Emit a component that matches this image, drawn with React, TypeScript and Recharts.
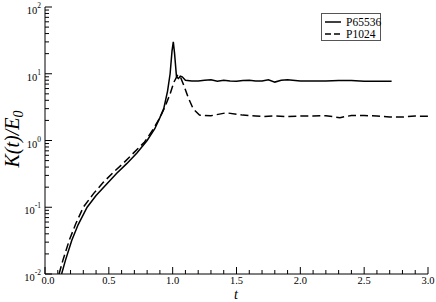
import React from 'react';
import { LineChart, Line, XAxis, YAxis } from 'recharts';

// P65536 (solid)
const tP65536 = [0.13, 0.16, 0.21, 0.26, 0.33, 0.40, 0.48, 0.56, 0.64, 0.72, 0.80, 0.86, 0.90, 0.93, 0.96, 0.98, 0.995, 1.005, 1.015, 1.03, 1.045, 1.06, 1.075, 1.10, 1.15, 1.20, 1.25, 1.30, 1.35, 1.40, 1.45, 1.50, 1.55, 1.60, 1.65, 1.70, 1.75, 1.80, 1.85, 1.90, 2.00, 2.10, 2.20, 2.30, 2.40, 2.50, 2.60, 2.715];
const kP65536 = [0.01, 0.016, 0.032, 0.055, 0.1, 0.15, 0.22, 0.32, 0.45, 0.65, 1.0, 1.5, 2.2, 3.0, 5.5, 10, 22, 30, 20, 9.0, 8.5, 9.2, 9.0, 8.0, 7.8, 7.8, 8.0, 8.1, 7.7, 8.0, 7.8, 7.7, 7.9, 8.0, 7.8, 7.8, 8.1, 7.5, 8.0, 8.1, 7.8, 7.8, 7.8, 7.9, 7.9, 7.7, 7.7, 7.7];

// P1024 (dashed)
const tP1024 = [0.11, 0.14, 0.19, 0.24, 0.30, 0.38, 0.46, 0.54, 0.62, 0.70, 0.78, 0.85, 0.90, 0.94, 0.98, 1.01, 1.04, 1.06, 1.09, 1.12, 1.16, 1.21, 1.30, 1.42, 1.55, 1.65, 1.71, 1.80, 1.90, 2.00, 2.10, 2.20, 2.31, 2.40, 2.50, 2.60, 2.70, 2.80, 2.90, 3.00];
const kP1024 = [0.01, 0.016, 0.032, 0.056, 0.1, 0.16, 0.24, 0.34, 0.47, 0.67, 0.95, 1.5, 2.2, 3.2, 5.0, 7.5, 9.6, 9.0, 6.5, 4.5, 3.0, 2.4, 2.35, 2.6, 2.4, 2.33, 2.28, 2.33, 2.28, 2.33, 2.33, 2.35, 2.2, 2.37, 2.37, 2.32, 2.25, 2.25, 2.32, 2.3];

const xTicks = [0, 0.1, 0.2, 0.3, 0.4, 0.5, 0.6, 0.7, 0.8, 0.9, 1.0, 1.1, 1.2, 1.3, 1.4, 1.5, 1.6, 1.7, 1.8, 1.9, 2.0, 2.1, 2.2, 2.3, 2.4, 2.5, 2.6, 2.7, 2.8, 2.9, 3.0];
const yTicks = [
  0.01, 0.02, 0.03, 0.04, 0.05, 0.06, 0.07, 0.08, 0.09,
  0.1, 0.2, 0.3, 0.4, 0.5, 0.6, 0.7, 0.8, 0.9,
  1, 2, 3, 4, 5, 6, 7, 8, 9,
  10, 20, 30, 40, 50, 60, 70, 80, 90,
  100,
];
const seriesNames = ['P65536', 'P1024'];

const dataP65536 = tP65536.map((t, i) => ({ t, k: kP65536[i] }));
const dataP1024 = tP1024.map((t, i) => ({ t, k: kP1024[i] }));

const FONT = "Liberation Serif, DejaVu Serif, serif";
const serif = { fontFamily: FONT };
const INK = '#000';
const MAJOR = 7;
const MINOR = 4;

const isMajorX = (v: number) => Math.abs(v * 2 - Math.round(v * 2)) < 1e-6;
const isMajorY = (v: number) => {
  const l = Math.log10(v);
  return Math.abs(l - Math.round(l)) < 1e-6;
};

const BottomTick = ({ x, y, payload }: any) => {
  const major = isMajorX(payload.value);
  return (
    <g>
      <line x1={x} y1={y} x2={x} y2={y - (major ? MAJOR : MINOR)} stroke={INK} />
      {major && (
        <text x={x + (payload.value === 0 ? 3 : 0)} y={y + 10} textAnchor="middle" fontSize={10.5} fontFamily={FONT} style={serif} fill={INK}>
          {payload.value.toFixed(1)}
        </text>
      )}
    </g>
  );
};

const TopTick = ({ x, y, payload }: any) => {
  const major = isMajorX(payload.value);
  return <line x1={x} y1={y} x2={x} y2={y + (major ? MAJOR : MINOR)} stroke={INK} />;
};

const LeftTick = ({ x, y, payload }: any) => {
  const major = isMajorY(payload.value);
  const exp = Math.round(Math.log10(payload.value));
  return (
    <g>
      <line x1={x} y1={y} x2={x + (major ? MAJOR : MINOR)} y2={y} stroke={INK} />
      {major && (
        <text x={x - 4} y={y + 7} textAnchor="end" fontSize={10.5} fontFamily={FONT} style={serif} fill={INK}>
          <tspan>10</tspan>
          <tspan dy={-6} fontSize={7.5}>{String(exp)}</tspan>
        </text>
      )}
    </g>
  );
};

const RightTick = ({ x, y, payload }: any) => {
  const major = isMajorY(payload.value);
  return <line x1={x} y1={y} x2={x - (major ? MAJOR : MINOR)} y2={y} stroke={INK} />;
};

function LegendBox() {
  return (
    <svg width={62} height={29} style={{ position: 'absolute', left: 321, top: 13 }}>
      <rect x={0.5} y={0.5} width={59} height={27} fill="#fff" stroke="#555" />
      <line x1={4} y1={9} x2={20} y2={9} stroke={INK} strokeWidth={1.5} />
      <text x={25} y={12.5} fontSize={11.5} fontFamily={FONT} style={serif} fill={INK}>{seriesNames[0]}</text>
      <line x1={4} y1={21} x2={20} y2={21} stroke={INK} strokeWidth={1.5} strokeDasharray="6 3" />
      <text x={25} y={24.5} fontSize={11.5} fontFamily={FONT} style={serif} fill={INK}>{seriesNames[1]}</text>
    </svg>
  );
}

export default function App() {
  return (
    <div style={{ position: 'absolute', left: 0, top: 0, width: 436, height: 302, background: '#fff', fontFamily: FONT }}>
      <LineChart width={436} height={302} margin={{ top: 7, right: 8, bottom: 0, left: 0 }}>
        <XAxis
          dataKey="t"
          type="number"
          domain={[0, 3]}
          ticks={xTicks}
          interval={0}
          allowDataOverflow
          height={28}
          tickSize={0}
          tickMargin={0}
          tickLine={false}
          axisLine={{ stroke: INK }}
          tick={<BottomTick />}
          label={{
            content: () => (
              <text x={236} y={299} textAnchor="middle" fontSize={14} fontStyle="italic" fontFamily={FONT} style={serif} fill={INK}>t</text>
            ),
          }}
        />
        <XAxis
          xAxisId="top"
          orientation="top"
          type="number"
          domain={[0, 3]}
          ticks={xTicks}
          interval={0}
          allowDataOverflow
          height={0}
          tickSize={0}
          tickMargin={0}
          tickLine={false}
          axisLine={{ stroke: INK }}
          tick={<TopTick />}
        />
        <YAxis
          type="number"
          scale="log"
          domain={[0.01, 100]}
          ticks={yTicks}
          interval={0}
          allowDataOverflow
          width={45}
          tickSize={0}
          tickMargin={0}
          tickLine={false}
          axisLine={{ stroke: INK }}
          tick={<LeftTick />}
          label={{
            content: () => (
              <text
                x={19}
                y={139}
                transform="rotate(-90 19 139)"
                textAnchor="middle"
                fontSize={20}
                fontStyle="italic"
                fontFamily={FONT}
                style={serif}
                fill={INK}
              >
                K(t)/E<tspan dy={4} fontSize={14}>0</tspan>
              </text>
            ),
          }}
        />
        <YAxis
          yAxisId="right"
          orientation="right"
          type="number"
          scale="log"
          domain={[0.01, 100]}
          ticks={yTicks}
          interval={0}
          allowDataOverflow
          width={0}
          tickSize={0}
          tickMargin={0}
          tickLine={false}
          axisLine={{ stroke: INK }}
          tick={<RightTick />}
        />
        <Line data={dataP65536} dataKey="k" name={seriesNames[0]} stroke={INK} strokeWidth={1.5} dot={false} type="linear" isAnimationActive={false} />
        <Line data={dataP1024} dataKey="k" name={seriesNames[1]} stroke={INK} strokeWidth={1.5} strokeDasharray="8 4" dot={false} type="linear" isAnimationActive={false} />
      </LineChart>
      <LegendBox />
    </div>
  );
}
